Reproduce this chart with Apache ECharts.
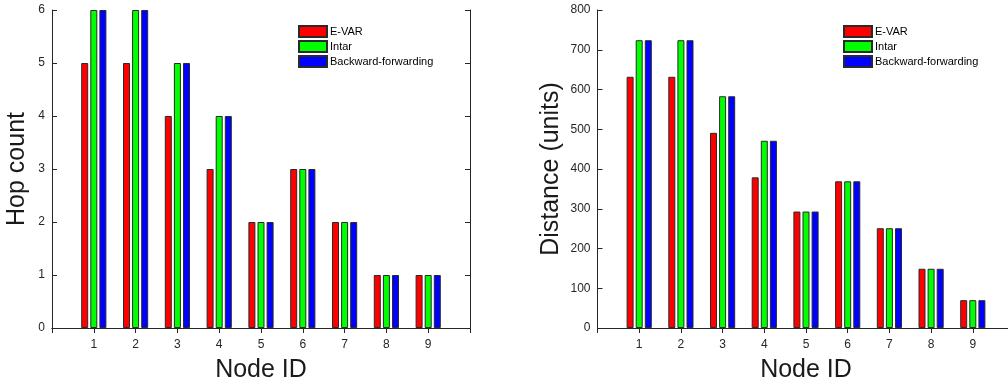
<!DOCTYPE html>
<html>
<head>
<meta charset="utf-8">
<script src="https://cdn.jsdelivr.net/npm/echarts@6/dist/echarts.min.js"></script>
<style>
html,body{margin:0;padding:0;background:#fff;}
#c{width:1008px;height:382px;}
</style>
</head>
<body>
<div id="c"></div>
<script>
// ---- data ----
const categories = ['1','2','3','4','5','6','7','8','9'];
const seriesNames = ['E-VAR','Intar','Backward-forwarding'];
const seriesColors = ['#ff0000','#00ff00','#0000ff'];

const hopEVAR  = [5,5,4,3,2,3,2,1,1];
const hopIntar = [6,6,5,4,2,3,2,1,1];
const hopBF    = [6,6,5,4,2,3,2,1,1];

const distEVAR  = [632,632,491,379,293,369,251,149,70];
const distIntar = [724,724,583,471,293,369,251,149,70];
const distBF    = [724,724,583,471,293,369,251,149,70];

const hopTicks  = {min:0, max:6, interval:1};
const distTicks = {min:0, max:800, interval:100};

// ---- build ----
const axisCats = [''].concat(categories, ['']);
const pad = a => [null].concat(a, [null]);
const FONT = 'Liberation Sans, Arial, Helvetica, sans-serif';
const AX = '#262626';

function xAx(gi, pos, showLabel) {
  return {
    type:'category', gridIndex:gi, position:pos, data:axisCats, boundaryGap:false,
    axisLine:{show:true, lineStyle:{color:AX, width:1}},
    axisTick:{show:true, inside:true, length:5, lineStyle:{color:AX}},
    axisLabel:{show:showLabel, color:AX, fontSize:12, fontFamily:FONT, margin:11, interval:0},
    splitLine:{show:false},
    name: showLabel ? 'Node ID' : '',
    nameLocation:'middle', nameGap:30,
    nameTextStyle:{fontSize:25, color:'#1a1a1a', fontFamily:FONT}
  };
}
function yAx(gi, pos, t, showLabel, name, gap) {
  return {
    type:'value', gridIndex:gi, position:pos, min:t.min, max:t.max, interval:t.interval,
    axisLine:{show:true, lineStyle:{color:AX, width:1}},
    axisTick:{show:true, inside:true, length:5, lineStyle:{color:AX}},
    axisLabel:{show:showLabel, color:AX, fontSize:12, fontFamily:FONT, margin:7},
    splitLine:{show:false},
    name: showLabel ? name : '',
    nameLocation:'middle', nameGap:gap,
    nameTextStyle:{fontSize:25, color:'#1a1a1a', fontFamily:FONT}
  };
}
function bars(xi, yi, arrs) {
  return arrs.map((a, i) => ({
    type:'bar', name:seriesNames[i], xAxisIndex:xi, yAxisIndex:yi,
    data:pad(a), barWidth:7, barGap:'30%',
    itemStyle:{color:seriesColors[i], borderColor:'#2a2a2a', borderWidth:1},
    emphasis:{disabled:true}, animation:false
  }));
}
function legend(left) {
  return {
    orient:'vertical', left:left, top:25, padding:0,
    itemWidth:28, itemHeight:11, itemGap:2, icon:'rect',
    textStyle:{fontSize:11, color:'#000', fontFamily:FONT, padding:[0,0,0,-2]},
    data:seriesNames, selectedMode:false
  };
}

const chart = echarts.init(document.getElementById('c'), null, {renderer:'canvas'});
chart.setOption({
  animation:false,
  backgroundColor:'#fff',
  textStyle:{fontFamily:FONT},
  grid:[
    {left:52, top:10, width:418, height:318, containLabel:false, outerBoundsMode:'none'},
    {left:597.5, top:10, width:417, height:318, containLabel:false, outerBoundsMode:'none'}
  ],
  legend:[legend(298), legend(843)],
  xAxis:[xAx(0,'bottom',true), xAx(0,'top',false), xAx(1,'bottom',true), xAx(1,'top',false)],
  yAxis:[
    yAx(0,'left',hopTicks,true,'Hop count',22), yAx(0,'right',hopTicks,false,'',0),
    yAx(1,'left',distTicks,true,'Distance (units)',34), yAx(1,'right',distTicks,false,'',0)
  ],
  series:[].concat(
    bars(0,0,[hopEVAR,hopIntar,hopBF]),
    bars(2,2,[distEVAR,distIntar,distBF])
  )
});
</script>
</body>
</html>
